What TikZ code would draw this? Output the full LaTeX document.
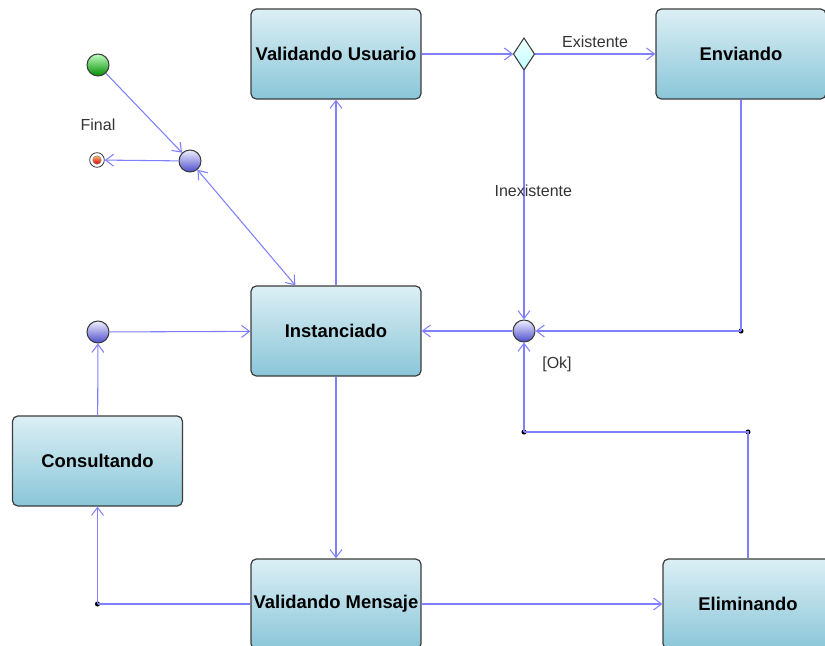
\documentclass[tikz,border=0pt]{standalone}
\usepackage{fontspec}
\setmainfont{Liberation Sans}
\usetikzlibrary{arrows.meta}

\definecolor{flowblue}{RGB}{128,128,255}
\definecolor{boxtop}{RGB}{220,239,245}
\definecolor{boxbot}{RGB}{138,198,216}
\definecolor{edgegray}{RGB}{60,60,60}

\begin{document}
\begin{tikzpicture}[x=0.75pt, y=-0.75pt,
    state/.style={draw=edgegray, line width=0.9pt, rounded corners=4pt,
        top color=boxtop, bottom color=boxbot,
        minimum width=127.5pt, minimum height=67.5pt, inner sep=0pt,
        font=\fontsize{13.8}{16}\selectfont\bfseries},
    junction/.style={circle, draw=edgegray, line width=0.8pt,
        top color=blue!6, bottom color=blue!55!gray!90,
        minimum size=16.5pt, inner sep=0pt},
    start/.style={circle, draw=edgegray, line width=0.8pt,
        top color=green!25, bottom color=green!55!black,
        minimum size=16.5pt, inner sep=0pt},
    choice/.style={draw=edgegray, line width=0.8pt,
        top color=cyan!5, bottom color=cyan!25,
        minimum width=15.75pt, minimum height=24pt, inner sep=0pt},
    benddot/.style={circle, fill=black, inner sep=0pt, minimum size=3.8pt},
    flow/.style={draw=flowblue, line width=0.8pt,
        -{Straight Barb[length=6pt, width=9pt]}},
    plain/.style={draw=flowblue, line width=0.8pt},
    lbl/.style={font=\fontsize{12}{14}\selectfont, text=black!80}]

    \useasboundingbox (0,0) rectangle (825,646);

    % States
    \node[state] (vu)   at (336,54)  {Validando Usuario};
    \node[state] (env)  at (741,54)  {Enviando};
    \node[state] (inst) at (336,331) {Instanciado};
    \node[state] (cons) at (97.5,461) {Consultando};
    \node[state] (vm)   at (336,604) {Validando Mensaje};
    \node[state] (elim) at (748,604) {Eliminando};

    % Pseudo states
    \node[start] (ini) at (98,65) {};
    \node[circle, draw=black!80, line width=0.6pt, fill=white,
          minimum size=11pt, inner sep=0pt] (fin) at (97,160) {};
    \shade[top color=orange!60, bottom color=red!85!black, draw=black!50, line width=0.3pt]
        (fin.center) circle (3.2pt);
    \node[lbl] (finlbl) at (98,125) {Final};
    \node[junction] (ja) at (190,161) {};
    \node[junction] (jb) at (524,331) {};
    \node[junction] (jc) at (98,332) {};
    \path[choice] (513.5,54) -- (524,38) -- (534.5,54) -- (524,70) -- cycle;
    \node[minimum width=15.75pt, minimum height=24pt, inner sep=0pt] (dec) at (524,54) {};

    % Bend points
    \node[benddot] (b1) at (741,331) {};
    \node[benddot] (b2) at (748,432) {};
    \node[benddot] (b3) at (524,432) {};
    \node[benddot] (b4) at (97.5,604) {};

    % Transitions
    \draw[flow] (ini) -- (ja);
    \draw[flow] (ja) -- (fin);
    \draw[flow, {Straight Barb[length=6pt, width=9pt]}-{Straight Barb[length=6pt, width=9pt]}]
        (ja) -- ([xshift=33.75pt]inst.north west);
    \draw[flow] (inst) -- (vu);
    \draw[flow] (vu) -- (dec.west);
    \draw[flow] (dec.east) -- (env) node[lbl, midway, above=1pt] {Existente};
    \draw[flow] (dec.south) -- (jb) node[lbl, midway, xshift=7pt, yshift=3pt] {Inexistente};
    \draw[plain] (env.south) -- (b1.center);
    \draw[flow] (b1.center) -- (jb);
    \draw[flow] (jb) -- (inst);
    \draw[plain] (elim.north) -- (b2.center) -- (b3.center);
    \draw[flow] (b3.center) -- (jb);
    \node[lbl] (ok) at (557,364) {[Ok]};
    \draw[flow] (inst) -- (vm);
    \draw[flow] (vm) -- (elim);
    \draw[plain] (vm) -- (b4.center);
    \draw[flow] (b4.center) -- (cons);
    \draw[flow] (cons) -- (jc);
    \draw[flow] (jc) -- (inst);
\end{tikzpicture}
\end{document}
